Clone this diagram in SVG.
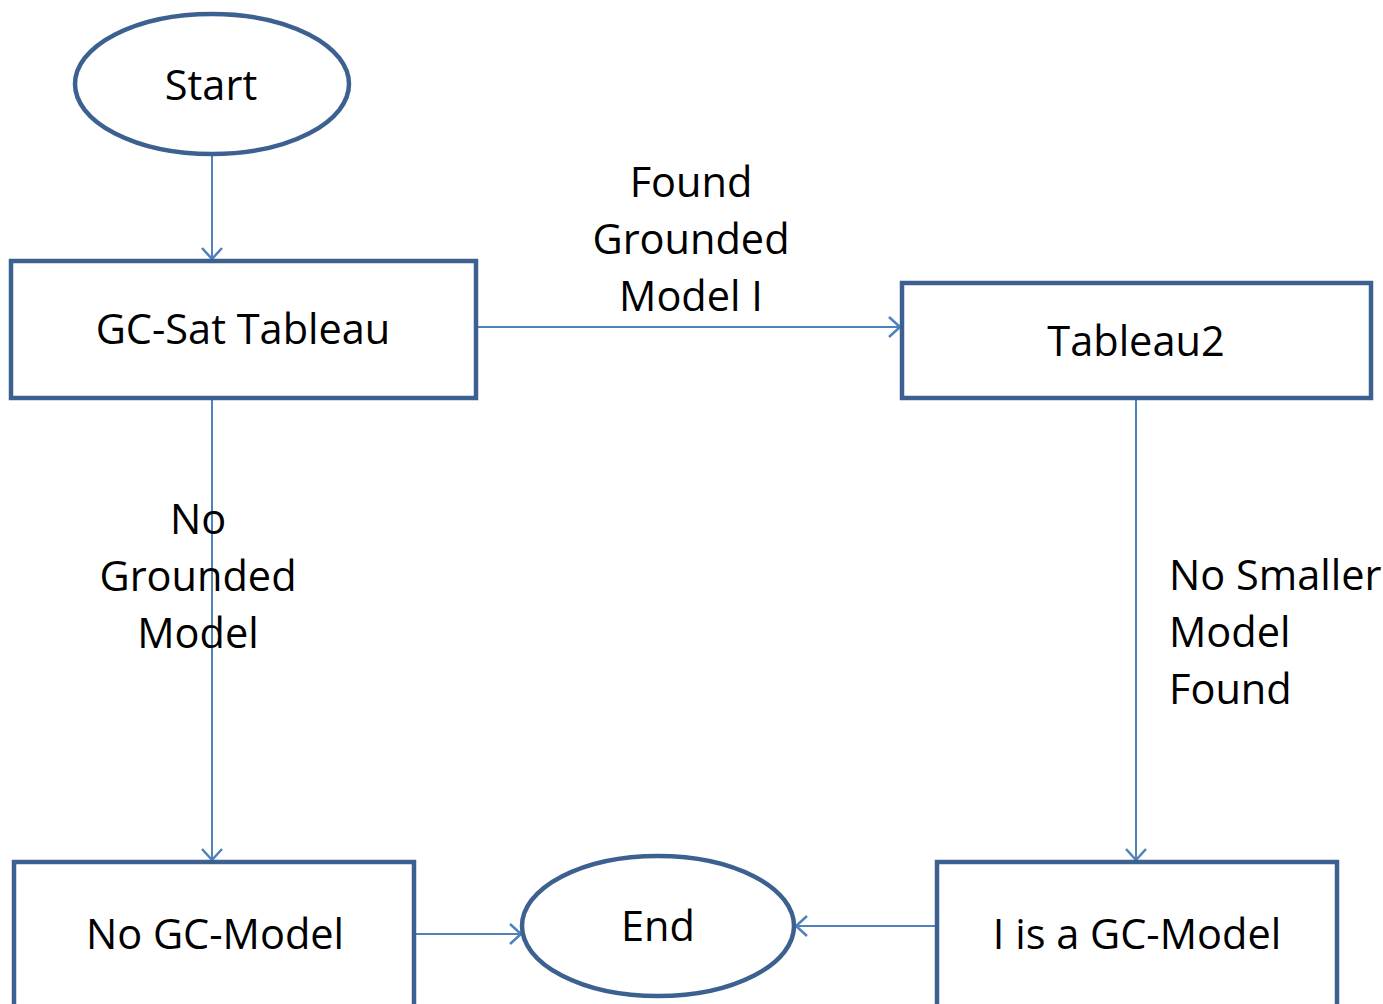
<svg xmlns="http://www.w3.org/2000/svg" width="1383" height="1004" viewBox="0 0 1383 1004">
<defs>
<style>
.node{fill:#fff;stroke:#3c6190;stroke-width:4.5}
.t{font-family:"Open Sans","Liberation Sans",sans-serif;font-size:41.5px;fill:#000;text-anchor:middle}
.l{font-family:"Open Sans","Liberation Sans",sans-serif;font-size:41.5px;fill:#000}
.c{fill:none;stroke:#4f81bd;stroke-width:2}
</style>
<marker id="ah" markerUnits="userSpaceOnUse" markerWidth="14" markerHeight="22" refX="12" refY="11" orient="auto" overflow="visible">
<path d="M1,1 L12,11 L1,21" fill="none" stroke="#4f81bd" stroke-width="2.5"/>
</marker>
</defs>
<rect width="1383" height="1004" fill="#fff"/>
<g id="connectors">
<line class="c" x1="212" y1="155" x2="212" y2="259" marker-end="url(#ah)"/>
<line class="c" x1="478" y1="327" x2="900" y2="327" marker-end="url(#ah)"/>
<line class="c" x1="212" y1="400" x2="212" y2="860" marker-end="url(#ah)"/>
<line class="c" x1="1136" y1="400" x2="1136" y2="860" marker-end="url(#ah)"/>
<line class="c" x1="416" y1="934" x2="521" y2="934" marker-end="url(#ah)"/>
<line class="c" x1="935" y1="926" x2="796" y2="926" marker-end="url(#ah)"/>
</g>
<g id="start"><ellipse class="node" cx="212" cy="84" rx="137" ry="70"/><text class="t" x="211" y="100">Start</text></g>
<g id="gcsat"><rect class="node" x="11" y="261" width="465" height="137"/><text class="t" x="243" y="344">GC-Sat Tableau</text></g>
<g id="tableau2"><rect class="node" x="902" y="283" width="469" height="115"/><text class="t" x="1136" y="356">Tableau2</text></g>
<g id="nogc"><rect class="node" x="14" y="862" width="400" height="160"/><text class="t" x="215" y="949">No GC-Model</text></g>
<g id="end"><ellipse class="node" cx="658" cy="926" rx="136" ry="70"/><text class="t" x="658" y="941">End</text></g>
<g id="isgc"><rect class="node" x="937" y="862" width="400" height="160"/><text class="t" x="1137" y="949">I is a GC-Model</text></g>
<g id="labels">
<text class="t" x="691" y="197">Found</text>
<text class="t" x="691" y="254">Grounded</text>
<text class="t" x="691" y="311">Model I</text>
<text class="t" x="198" y="534">No</text>
<text class="t" x="198" y="591">Grounded</text>
<text class="t" x="198" y="648">Model</text>
<text class="l" x="1169" y="590">No Smaller</text>
<text class="l" x="1169" y="647">Model</text>
<text class="l" x="1169" y="704">Found</text>
</g>
</svg>
